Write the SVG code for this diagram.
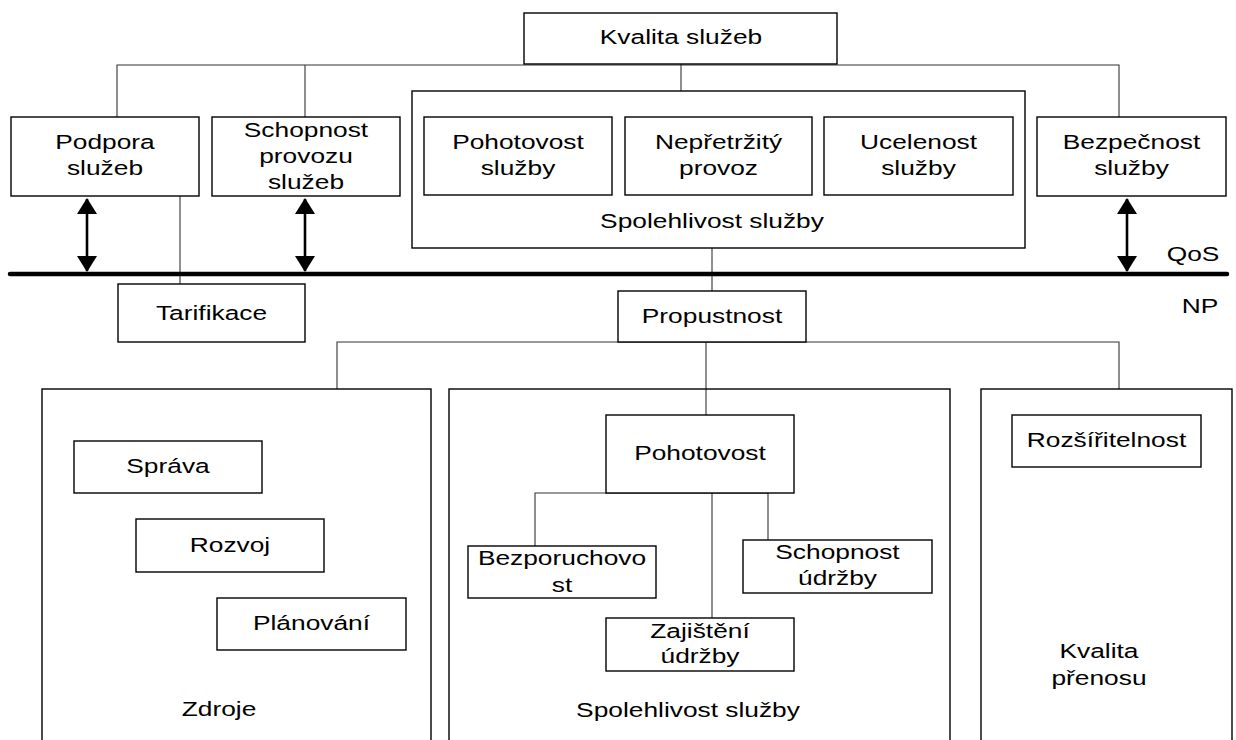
<svg xmlns="http://www.w3.org/2000/svg" width="1236" height="740" viewBox="0 0 1236 740">
  <defs>
    <style>
      .box { fill: #fff; stroke: #000; stroke-width: 1.4; }
      .frame { fill: none; stroke: #000; stroke-width: 1.4; }
      .wire { fill: none; stroke: #333; stroke-width: 1.1; }
      .axis { fill: none; stroke: #000; stroke-width: 4.5; stroke-linecap: round; }
      .dbl { fill: none; stroke: #000; stroke-width: 2.6; }
      text { font-family: "Liberation Sans", Arial, sans-serif; font-size: 19.5px; fill: #000; text-anchor: middle; }
    </style>
    <marker id="tip" viewBox="0 0 16 20" refX="15" refY="10" markerWidth="16" markerHeight="20" markerUnits="userSpaceOnUse" orient="auto-start-reverse">
      <path d="M0,0 L16,10 L0,20 Z" fill="#000"/>
    </marker>
  </defs>

  <!-- connectors -->
  <g id="connectors">
    <polyline class="wire" points="117,117 117,65 1119,65 1119,117"/>
    <line class="wire" x1="305" y1="65" x2="305" y2="117"/>
    <line class="wire" x1="681" y1="64" x2="681" y2="91"/>
    <line class="wire" x1="180" y1="196" x2="180" y2="284"/>
    <line class="wire" x1="712" y1="248" x2="712" y2="291"/>
    <polyline class="wire" points="337,389 337,342 1119,342 1119,389"/>
    <line class="wire" x1="706" y1="342" x2="706" y2="415"/>
    <polyline class="wire" points="535,546 535,493 768,493 768,540"/>
    <line class="wire" x1="712" y1="493" x2="712" y2="618"/>
    <line class="dbl" x1="87" y1="199" x2="87" y2="271" marker-start="url(#tip)" marker-end="url(#tip)"/>
    <line class="dbl" x1="305" y1="199" x2="305" y2="271" marker-start="url(#tip)" marker-end="url(#tip)"/>
    <line class="dbl" x1="1127" y1="199" x2="1127" y2="271" marker-start="url(#tip)" marker-end="url(#tip)"/>
    <line class="axis" x1="10" y1="274" x2="1227" y2="274"/>
  </g>

  <!-- QoS layer -->
  <g id="kvalita-sluzeb">
    <rect class="box" x="524" y="13" width="313" height="51"/>
    <text transform="translate(681,44) scale(1.35,1)">Kvalita služeb</text>
  </g>
  <g id="podpora-sluzeb">
    <rect class="box" x="11" y="117" width="188" height="79"/>
    <text transform="translate(105,149) scale(1.35,1)">Podpora</text>
    <text transform="translate(105,175) scale(1.35,1)">služeb</text>
  </g>
  <g id="schopnost-provozu">
    <rect class="box" x="212" y="117" width="188" height="79"/>
    <text transform="translate(306,137) scale(1.35,1)">Schopnost</text>
    <text transform="translate(306,163) scale(1.35,1)">provozu</text>
    <text transform="translate(306,189) scale(1.35,1)">služeb</text>
  </g>
  <g id="spolehlivost-qos">
    <rect class="box" x="412" y="91" width="613" height="157"/>
    <text transform="translate(712,228) scale(1.35,1)">Spolehlivost služby</text>
  </g>
  <g id="pohotovost-sluzby">
    <rect class="box" x="424" y="117" width="188" height="78"/>
    <text transform="translate(518,149) scale(1.35,1)">Pohotovost</text>
    <text transform="translate(518,175) scale(1.35,1)">služby</text>
  </g>
  <g id="nepretrzity-provoz">
    <rect class="box" x="625" y="117" width="187" height="78"/>
    <text transform="translate(718.5,149) scale(1.35,1)">Nepřetržitý</text>
    <text transform="translate(718.5,175) scale(1.35,1)">provoz</text>
  </g>
  <g id="ucelenost-sluzby">
    <rect class="box" x="824" y="117" width="189" height="78"/>
    <text transform="translate(918.5,149) scale(1.35,1)">Ucelenost</text>
    <text transform="translate(918.5,175) scale(1.35,1)">služby</text>
  </g>
  <g id="bezpecnost-sluzby">
    <rect class="box" x="1037" y="117" width="189" height="79"/>
    <text transform="translate(1131.5,149) scale(1.35,1)">Bezpečnost</text>
    <text transform="translate(1131.5,175) scale(1.35,1)">služby</text>
  </g>

  <!-- layer labels -->
  <g id="label-qos">
    <text transform="translate(1193,261) scale(1.35,1)">QoS</text>
  </g>
  <g id="label-np">
    <text transform="translate(1200,313) scale(1.35,1)">NP</text>
  </g>

  <!-- NP layer -->
  <g id="tarifikace">
    <rect class="box" x="118" y="284" width="187" height="58"/>
    <text transform="translate(211.5,320) scale(1.35,1)">Tarifikace</text>
  </g>
  <g id="propustnost">
    <rect class="box" x="618" y="291" width="188" height="51"/>
    <text transform="translate(712,323) scale(1.35,1)">Propustnost</text>
  </g>

  <g id="zdroje">
    <rect class="frame" x="42" y="389" width="389" height="380"/>
    <text transform="translate(219,716) scale(1.35,1)">Zdroje</text>
  </g>
  <g id="sprava">
    <rect class="box" x="74" y="441" width="188" height="52"/>
    <text transform="translate(168,473) scale(1.35,1)">Správa</text>
  </g>
  <g id="rozvoj">
    <rect class="box" x="136" y="519" width="188" height="53"/>
    <text transform="translate(230,552) scale(1.35,1)">Rozvoj</text>
  </g>
  <g id="planovani">
    <rect class="box" x="217" y="598" width="189" height="52"/>
    <text transform="translate(311.5,630) scale(1.35,1)">Plánování</text>
  </g>

  <g id="spolehlivost-np">
    <rect class="frame" x="449" y="389" width="501" height="380"/>
    <text transform="translate(688,717) scale(1.35,1)">Spolehlivost služby</text>
  </g>
  <g id="pohotovost">
    <rect class="box" x="606" y="415" width="188" height="78"/>
    <text transform="translate(700,460) scale(1.35,1)">Pohotovost</text>
  </g>
  <g id="bezporuchovost">
    <rect class="box" x="468" y="546" width="188" height="52"/>
    <text transform="translate(562,565) scale(1.35,1)">Bezporuchovo</text>
    <text transform="translate(562,592) scale(1.35,1)">st</text>
  </g>
  <g id="schopnost-udrzby">
    <rect class="box" x="743" y="540" width="189" height="53"/>
    <text transform="translate(837.5,559) scale(1.35,1)">Schopnost</text>
    <text transform="translate(837.5,585) scale(1.35,1)">údržby</text>
  </g>
  <g id="zajisteni-udrzby">
    <rect class="box" x="606" y="618" width="188" height="53"/>
    <text transform="translate(700,638) scale(1.35,1)">Zajištění</text>
    <text transform="translate(700,663) scale(1.35,1)">údržby</text>
  </g>

  <g id="kvalita-prenosu">
    <rect class="frame" x="981" y="389" width="251" height="380"/>
    <text transform="translate(1099,658) scale(1.35,1)">Kvalita</text>
    <text transform="translate(1099,685) scale(1.35,1)">přenosu</text>
  </g>
  <g id="rozsiritelnost">
    <rect class="box" x="1012" y="415" width="189" height="52"/>
    <text transform="translate(1106.5,447) scale(1.35,1)">Rozšířitelnost</text>
  </g>
</svg>
